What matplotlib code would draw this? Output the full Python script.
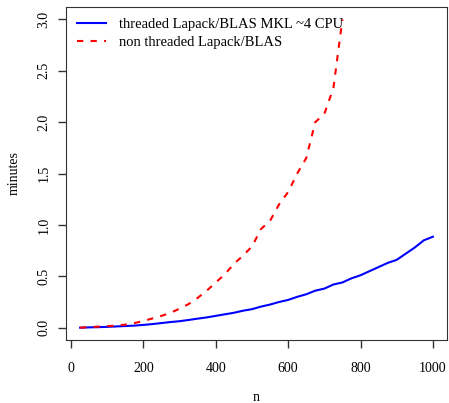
import matplotlib
matplotlib.use("Agg")
import matplotlib.pyplot as plt

n_thr = [25, 50, 75, 100, 125, 150, 175, 200, 225, 250, 275, 300, 325, 350,
         375, 400, 425, 450, 475, 500, 525, 550, 575, 600, 625, 650, 675, 700,
         725, 750, 775, 800, 825, 850, 875, 900, 925, 950, 975, 1000]
t_thr = [0.0, 0.003, 0.005, 0.008, 0.012, 0.016, 0.02, 0.027, 0.035, 0.045,
         0.055, 0.063, 0.075, 0.088, 0.10, 0.115, 0.13, 0.145, 0.165, 0.18,
         0.205, 0.225, 0.25, 0.27, 0.30, 0.325, 0.36, 0.38, 0.42, 0.44,
         0.48, 0.51, 0.55, 0.59, 0.63, 0.66, 0.72, 0.78, 0.85, 0.885]

n_non = [25, 50, 75, 100, 125, 150, 175, 200, 225, 250, 275, 300, 325, 350,
         375, 400, 425, 450, 475, 500, 525, 550, 575, 600, 625, 650, 675, 700,
         725, 750]
t_non = [0.0, 0.005, 0.01, 0.015, 0.02, 0.03, 0.045, 0.065, 0.09, 0.115,
         0.145, 0.185, 0.23, 0.29, 0.36, 0.44, 0.52, 0.62, 0.70, 0.79,
         0.96, 1.04, 1.2, 1.32, 1.5, 1.65, 2.0, 2.08, 2.33, 3.0]

labels = ["threaded Lapack/BLAS MKL ~4 CPU", "non threaded Lapack/BLAS"]

plt.rcParams['font.family'] = ['Liberation Serif', 'DejaVu Serif']
plt.rcParams['font.size'] = 10

fig = plt.figure(figsize=(4.49, 4.03), dpi=100)
ax = fig.add_axes([0.1470, 0.1563, 0.8485, 0.8263])

ax.plot(n_thr, t_thr, color='blue', lw=1.5, label=labels[0])
ax.plot(n_non, t_non, color='red', lw=1.5, ls=(0, (3, 3.5)), label=labels[1])

ax.set_xlim(-14, 1039)
ax.set_ylim(-0.12, 3.12)
ax.set_xticks([0, 200, 400, 600, 800, 1000])
ax.set_yticks([0.0, 0.5, 1.0, 1.5, 2.0, 2.5, 3.0])
ax.set_yticklabels(["0.0", "0.5", "1.0", "1.5", "2.0", "2.5", "3.0"],
                   rotation=90, va='center')
ax.tick_params(direction='out', length=6, width=1, colors='#333333',
               labelcolor='black')
ax.tick_params(axis='x', pad=10)
ax.tick_params(axis='y', pad=5)
for s in ax.spines.values():
    s.set_color('#333333')
ax.set_xlabel("n", labelpad=11)
ax.set_ylabel("minutes", labelpad=12)

ax.legend(loc='upper left', frameon=False, handlelength=2.0, handletextpad=0.9,
          borderaxespad=0.35, labelspacing=0.3, fontsize=10.5)

fig.savefig("out.png", dpi=100)
